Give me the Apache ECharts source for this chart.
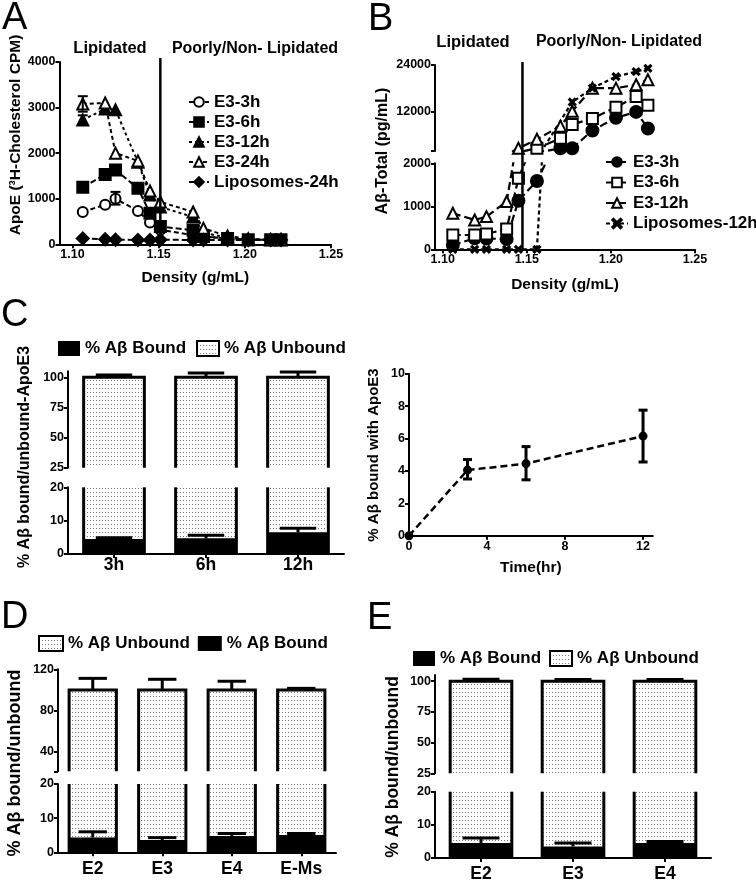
<!DOCTYPE html>
<html><head><meta charset="utf-8">
<script src="https://cdn.jsdelivr.net/npm/echarts@6.0.0/dist/echarts.min.js"></script>
<style>html,body{margin:0;padding:0;background:#fff;}#chart{width:756px;height:883px;}</style>
</head><body><div id="chart"></div>
<script>
// ===== Panel A: ApoE (3H-cholesterol CPM) vs density =====
const densityA = [1.106, 1.119, 1.125, 1.138, 1.145, 1.151, 1.170, 1.176, 1.190, 1.202, 1.215, 1.221];
const apoE_E3_3h  = [710, 870, 1000, 730, 480, 320, 200, 160, 130, 100, 100, 100];
const apoE_E3_6h  = [1250, 1530, 1630, 1230, 680, 390, 310, 170, 130, 100, 100, 100];
const apoE_E3_12h = [2730, 2970, 2950, 1800, 1080, 820, 600, 250, 150, 100, 100, 100];
const apoE_E3_24h = [3080, 3100, 2000, 1830, 1170, 930, 710, 350, 180, 120, 100, 100];
const apoE_Lipo_24h = [130, 110, 100, 95, 95, 100, 95, 95, 95, 95, 95, 95];
const apoE_errorBars = [[1.106, 2910, 3250], [1.106, 2640, 2830], [1.125, 870, 1150]]; // [density, low, high]
const boundaryA = 1.151;
const ticksA_x = [1.10, 1.15, 1.20, 1.25];
const ticksA_y = [0, 1000, 2000, 3000, 4000];

// ===== Panel B: Abeta total vs density =====
const densityB = [1.106, 1.119, 1.126, 1.138, 1.145, 1.156, 1.170, 1.177, 1.189, 1.203, 1.215, 1.222];
const ab_E3_3h  = [100, 256, 250, 240, 1130, 1590, 2700, 2700, 7260, 10480, 12000, 7770];
const ab_E3_6h  = [333, 333, 357, 473, 1650, 2700, 5240, 8790, 10310, 13180, 15970, 13690];
const ab_E3_12h = [837, 682, 760, 1110, 2700, 4990, 8360, 12170, 18080, 18080, 18930, 20200];
const ab_Lipo_12h = [0, 0, 0, 0, 0, 0, null, 14530, 18080, 21040, 22300, 23150];
const boundaryB = 1.1474;
const ticksB_x = [1.10, 1.15, 1.20, 1.25];
const ticksB_upper = [2000, 12000, 24000];
const labelsB_upper = [12000, 24000];
const ticksB_lower = [0, 1000, 2000];

// ===== Panel C left: % bound / unbound over time =====
const catC = ['3h', '6h', '12h'];
const boundC = [4.5, 4.7, 6.5];
const boundErrTopC = [4.9, 5.6, 7.7];
const totalC = [100, 100, 100];
const totalErrTopC = [102, 103.6, 104.4];
const ticksC_upper = [25, 50, 75, 100];
const ticksC_lower = [0, 10, 20];

// ===== Panel C right: % bound vs time =====
const timeHr = [0, 3, 6, 12];
const boundTime = [0, 4.05, 4.45, 6.15];
const boundTimeLow = [0, 3.5, 3.45, 4.55];
const boundTimeHigh = [0, 4.7, 5.5, 7.75];
const ticksCR_x = [0, 4, 8, 12];
const ticksCR_y = [0, 2, 4, 6, 8, 10];

// ===== Panel D =====
const catD = ['E2', 'E3', 'E4', 'E-Ms'];
const boundD = [4.3, 3.6, 4.8, 5.1];
const boundErrTopD = [6.0, 4.3, 5.5, 5.5];
const totalD = [100, 100, 100, 100];
const totalErrTopD = [111.2, 110.3, 108.4, 101.5];
const ticksD_upper = [21, 40, 80, 120];
const labelsD_upper = [40, 80, 120];
const ticksD_lower = [0, 10, 20];

// ===== Panel E =====
const catE = ['E2', 'E3', 'E4'];
const boundE = [4.5, 3.5, 4.5];
const boundErrTopE = [6.0, 4.5, 5.0];
const totalE = [100, 100, 100];
const totalErrTopE = [101.6, 101.3, 101.3];
const ticksE_upper = [25, 50, 75, 100];
const ticksE_lower = [0, 10, 20];

// ---------------- rendering ----------------
const FONT = '"Liberation Sans", Arial, Helvetica, sans-serif';
const L = {
  A:  {left: 59.5, top: 62,    width: 271.5, height: 182.3},
  BU: {left: 435,  top: 65,    width: 260,   height: 86},
  BL: {left: 435,  top: 163.3, width: 260,   height: 86},
  CU: {left: 68,   top: 371.3, width: 276,   height: 96.4},
  CL: {left: 68,   top: 487.3, width: 276,   height: 66.7},
  CR: {left: 409,  top: 373.7, width: 243.8, height: 162},
  DU: {left: 58,   top: 669.3, width: 278,   height: 102},
  DL: {left: 58,   top: 784,   width: 278,   height: 68.3},
  EU: {left: 435,  top: 675,   width: 276,   height: 98.3},
  EL: {left: 435,  top: 791.7, width: 276,   height: 66.6}
};
const order = ['A','BU','BL','CU','CL','CR','DU','DL','EU','EL'];
const G = {}; order.forEach((k, i) => G[k] = i);

function makeDots() {
  const c = document.createElement('canvas'); c.width = 3; c.height = 4;
  const g = c.getContext('2d'); g.fillStyle = '#fff'; g.fillRect(0, 0, 3, 4);
  g.fillStyle = '#777'; g.fillRect(0, 0, 1, 1);
  return c;
}
const dotPattern = {image: makeDots(), repeat: 'repeat'};

const axLine = {show: true, onZero: false, lineStyle: {color: '#000', width: 2}};
function tick(vals) { return {show: true, length: 4, lineStyle: {color: '#000', width: 2}, customValues: vals}; }
function lab(vals, size, fmt) {
  return {color: '#000', fontFamily: FONT, fontWeight: 'bold', fontSize: size || 12.5, margin: 4, customValues: vals,
    formatter: fmt || (v => String(v))};
}
const nameStyle = {color: '#000', fontFamily: FONT, fontWeight: 'bold', fontSize: 15.5};
function catLab(margin) { return {color: '#000', fontFamily: FONT, fontWeight: 'bold', fontSize: 17.5, margin}; }
const catTick = {show: true, alignWithLabel: true, length: 4, lineStyle: {color: '#000', width: 2}};

const grids = order.map(k => Object.assign({containLabel: false}, L[k]));

const xAxes = [
  {gridIndex: G.A, type: 'value', min: 1.0925, max: 1.25, axisLine: axLine, axisTick: tick(ticksA_x), axisLabel: lab(ticksA_x, 12.5, v => v.toFixed(2)), splitLine: {show: false}, name: 'Density (g/mL)', nameLocation: 'middle', nameGap: 25, nameTextStyle: nameStyle},
  {gridIndex: G.BU, type: 'value', min: 1.0954, max: 1.25, show: false, splitLine: {show: false}},
  {gridIndex: G.BL, type: 'value', min: 1.0954, max: 1.25, axisLine: axLine, axisTick: tick(ticksB_x), axisLabel: lab(ticksB_x, 12.5, v => v.toFixed(2)), splitLine: {show: false}, name: 'Density (g/mL)', nameLocation: 'middle', nameGap: 27, nameTextStyle: nameStyle},
  {gridIndex: G.CU, type: 'category', data: catC, show: false},
  {gridIndex: G.CL, type: 'category', data: catC, axisLine: axLine, axisTick: catTick, axisLabel: catLab(2)},
  {gridIndex: G.CR, type: 'value', min: 0, max: 12.5, axisLine: axLine, axisTick: tick(ticksCR_x), axisLabel: lab(ticksCR_x, 12.5), splitLine: {show: false}, name: 'Time(hr)', nameLocation: 'middle', nameGap: 24, nameTextStyle: nameStyle},
  {gridIndex: G.DU, type: 'category', data: catD, show: false},
  {gridIndex: G.DL, type: 'category', data: catD, axisLine: axLine, axisTick: catTick, axisLabel: catLab(8)},
  {gridIndex: G.EU, type: 'category', data: catE, show: false},
  {gridIndex: G.EL, type: 'category', data: catE, axisLine: axLine, axisTick: catTick, axisLabel: catLab(7)}
];

function yv(gi, min, max, ticks, labels) {
  return {gridIndex: gi, type: 'value', min, max, axisLine: axLine, axisTick: tick(ticks), axisLabel: lab(labels || ticks, 12.5), splitLine: {show: false}};
}
const yAxes = [
  yv(G.A, 0, 4000, ticksA_y),
  yv(G.BU, 2000, 24000, ticksB_upper, labelsB_upper),
  yv(G.BL, 0, 2000, ticksB_lower),
  yv(G.CU, 25, 105, ticksC_upper),
  yv(G.CL, 0, 20, ticksC_lower),
  yv(G.CR, 0, 10, ticksCR_y),
  yv(G.DU, 21, 120, ticksD_upper, labelsD_upper),
  yv(G.DL, 0, 20, ticksD_lower),
  yv(G.EU, 25, 105, ticksE_upper),
  yv(G.EL, 0, 20, ticksE_lower)
];

function lineS(name, xs, ys, gi, symbol, size, dash, width, clip) {
  return {type: 'line', name, xAxisIndex: gi, yAxisIndex: gi, data: xs.map((x, i) => [x, ys[i]]),
    symbol, symbolSize: size, showAllSymbol: true, clip: clip !== false, connectNulls: true,
    lineStyle: {color: '#000', width: width || 2, type: dash},
    itemStyle: {color: '#000', borderColor: '#000', borderWidth: 2}, z: 3};
}
function vline(xv, gi, extTop) {
  return {type: 'custom', xAxisIndex: gi, yAxisIndex: gi, clip: false, silent: true, z: 6, data: [[xv, 0]],
    renderItem: (params, api) => {
      const cs = params.coordSys; const x = api.coord([api.value(0), 0])[0];
      return {type: 'line', shape: {x1: x, y1: cs.y + cs.height, x2: x, y2: cs.y - extTop}, style: {stroke: '#000', lineWidth: 2.5}};
    }};
}
function errS(rows, gi, half, lw) {
  return {type: 'custom', xAxisIndex: gi, yAxisIndex: gi, clip: false, silent: true, z: 4, data: rows,
    renderItem: (params, api) => {
      const x = api.value(0); const a = api.coord([x, api.value(1)]), b = api.coord([x, api.value(2)]);
      const st = {stroke: '#000', lineWidth: lw || 2};
      return {type: 'group', children: [
        {type: 'line', shape: {x1: a[0], y1: a[1], x2: b[0], y2: b[1]}, style: st},
        {type: 'line', shape: {x1: a[0] - half, y1: a[1], x2: a[0] + half, y2: a[1]}, style: st},
        {type: 'line', shape: {x1: b[0] - half, y1: b[1], x2: b[0] + half, y2: b[1]}, style: st}]};
    }};
}
function barS(part, name, gi, cats, bound, boundErr, total, totalErr, ratio) {
  const data = cats.map((c, i) => [i, bound[i], total[i], boundErr[i], totalErr[i]]);
  return {type: 'custom', name, xAxisIndex: gi, yAxisIndex: gi, clip: false, silent: true, z: part === 'bound' ? 3 : 2, data,
    itemStyle: {color: part === 'bound' ? '#000' : '#ccc'},
    renderItem: (params, api) => {
      const cs = params.coordSys; const top = cs.y, bot = cs.y + cs.height;
      const cl = v => Math.max(top, Math.min(bot, v));
      const cat = api.value(0), b = api.value(1), t = api.value(2), be = api.value(3), te = api.value(4);
      const y = v => api.coord([cat, v])[1];
      const cx = api.coord([cat, 0])[0];
      const bw = api.size([1, 0])[0] * ratio;
      const xl = cx - bw / 2, xr = cx + bw / 2, half = bw * 0.3;
      const kids = [];
      const st = {stroke: '#000', lineWidth: 3, fill: null};
      const inside = v => v >= top - 0.5 && v <= bot + 0.5;
      if (part === 'unbound') {
        const yb = cl(y(b)), yt = cl(y(t)), y0 = cl(y(0));
        if (yb - yt > 0.5) kids.push({type: 'rect', shape: {x: xl, y: yt, width: bw, height: yb - yt}, style: {fill: dotPattern}});
        const topVis = inside(y(t));
        if (y0 - yt > 0.5) {
          if (topVis) kids.push({type: 'polyline', shape: {points: [[xl, y0], [xl, yt], [xr, yt], [xr, y0]]}, style: st});
          else {
            kids.push({type: 'line', shape: {x1: xl, y1: y0, x2: xl, y2: yt}, style: st});
            kids.push({type: 'line', shape: {x1: xr, y1: y0, x2: xr, y2: yt}, style: st});
          }
        }
        if (topVis) {
          const ye = cl(y(te));
          kids.push({type: 'line', shape: {x1: cx, y1: y(t), x2: cx, y2: ye}, style: st});
          kids.push({type: 'line', shape: {x1: cx - half, y1: ye, x2: cx + half, y2: ye}, style: st});
        }
      } else {
        const y0 = cl(y(0)), yb = cl(y(b));
        if (y0 - yb > 0.5) kids.push({type: 'rect', shape: {x: xl, y: yb, width: bw, height: y0 - yb}, style: {fill: '#000'}});
        if (inside(y(b)) && inside(y(be))) {
          kids.push({type: 'line', shape: {x1: cx, y1: y(b), x2: cx, y2: y(be)}, style: st});
          kids.push({type: 'line', shape: {x1: cx - half, y1: y(be), x2: cx + half, y2: y(be)}, style: st});
        }
      }
      return {type: 'group', children: kids};
    }};
}

const xSym = 'path://M0,1.3L1.3,0L5,3.7L8.7,0L10,1.3L6.3,5L10,8.7L8.7,10L5,6.3L1.3,10L0,8.7L3.7,5Z';

const series = [
  // Panel A
  lineS('A|E3-3h', densityA, apoE_E3_3h, G.A, 'emptyCircle', 10, [5, 3]),
  lineS('A|E3-6h', densityA, apoE_E3_6h, G.A, 'rect', 11, [6, 3]),
  lineS('A|E3-12h', densityA, apoE_E3_12h, G.A, 'triangle', 11, [3, 3]),
  lineS('A|E3-24h', densityA, apoE_E3_24h, G.A, 'emptyTriangle', 11, [4, 3]),
  lineS('A|Liposomes-24h', densityA, apoE_Lipo_24h, G.A, 'diamond', 12, [6, 3]),
  errS(apoE_errorBars, G.A, 5, 2),
  vline(boundaryA, G.A, 4),
  // Panel B (upper and lower segments of the broken axis)
  lineS('B|E3-3h', densityB, ab_E3_3h, G.BU, 'circle', 12, [8, 4], 2.2),
  lineS('B|E3-6h', densityB, ab_E3_6h, G.BU, 'emptyRect', 11, [8, 4], 2.2),
  lineS('B|E3-12h', densityB, ab_E3_12h, G.BU, 'emptyTriangle', 11, [8, 4], 2.2),
  lineS('B|Liposomes-12h', densityB, ab_Lipo_12h, G.BU, xSym, 6.5, [4, 3], 2.2),
  lineS('B|E3-3h', densityB, ab_E3_3h, G.BL, 'circle', 12, [8, 4], 2.2),
  lineS('B|E3-6h', densityB, ab_E3_6h, G.BL, 'emptyRect', 11, [8, 4], 2.2),
  lineS('B|E3-12h', densityB, ab_E3_12h, G.BL, 'emptyTriangle', 11, [8, 4], 2.2),
  lineS('B|Liposomes-12h', densityB, ab_Lipo_12h, G.BL, xSym, 6.5, [4, 3], 2.2),
  vline(boundaryB, G.BL, L.BL.top - L.BU.top + 3),
  // Panel C left
  barS('unbound', 'C|% Aβ Unbound', G.CU, catC, boundC, boundErrTopC, totalC, totalErrTopC, 0.66),
  barS('unbound', 'C|% Aβ Unbound', G.CL, catC, boundC, boundErrTopC, totalC, totalErrTopC, 0.66),
  barS('bound', 'C|% Aβ Bound', G.CL, catC, boundC, boundErrTopC, totalC, totalErrTopC, 0.66),
  // Panel C right
  lineS('CR|bound', timeHr, boundTime, G.CR, 'circle', 7, [7, 4], 2.5, false),
  errS(timeHr.slice(1).map((t, i) => [t, boundTimeLow[i + 1], boundTimeHigh[i + 1]]), G.CR, 4.5, 3),
  // Panel D
  barS('unbound', 'D|% Aβ Unbound', G.DU, catD, boundD, boundErrTopD, totalD, totalErrTopD, 0.68),
  barS('unbound', 'D|% Aβ Unbound', G.DL, catD, boundD, boundErrTopD, totalD, totalErrTopD, 0.68),
  barS('bound', 'D|% Aβ Bound', G.DL, catD, boundD, boundErrTopD, totalD, totalErrTopD, 0.68),
  // Panel E
  barS('unbound', 'E|% Aβ Unbound', G.EU, catE, boundE, boundErrTopE, totalE, totalErrTopE, 0.67),
  barS('unbound', 'E|% Aβ Unbound', G.EL, catE, boundE, boundErrTopE, totalE, totalErrTopE, 0.67),
  barS('bound', 'E|% Aβ Bound', G.EL, catE, boundE, boundErrTopE, totalE, totalErrTopE, 0.67)
];

const legText = size => ({fontFamily: FONT, fontWeight: 'bold', fontSize: size, color: '#000'});
const fmt = n => n.split('|')[1];
const boxLeg = (p, first) => {
  const b = {name: p + '|% Aβ Bound', icon: 'rect', itemStyle: {color: '#000', borderWidth: 0}};
  const u = {name: p + '|% Aβ Unbound', icon: 'rect', itemStyle: {color: dotPattern, borderColor: '#000', borderWidth: 2}};
  return first === 'bound' ? [b, u] : [u, b];
};
const legends = [
  {orient: 'vertical', left: 183, top: 88.5, itemWidth: 20, itemHeight: 12, itemGap: 3, itemTextGap: 12, selectedMode: false,
   data: ['A|E3-3h', 'A|E3-6h', 'A|E3-12h', 'A|E3-24h', 'A|Liposomes-24h'], formatter: fmt, textStyle: Object.assign(legText(17), {lineHeight: 17})},
  {orient: 'vertical', left: 600, top: 148.5, itemWidth: 22, itemHeight: 12, itemGap: 3.5, itemTextGap: 8, selectedMode: false,
   data: ['B|E3-3h', 'B|E3-6h', 'B|E3-12h', 'B|Liposomes-12h'], formatter: fmt, textStyle: Object.assign(legText(17), {lineHeight: 17})},
  {orient: 'horizontal', left: 53, top: 335, itemWidth: 22, itemHeight: 15, itemGap: 10, itemTextGap: 10, selectedMode: false,
   data: boxLeg('C', 'bound'), formatter: fmt, textStyle: legText(17)},
  {orient: 'horizontal', left: 33, top: 630, itemWidth: 24, itemHeight: 15, itemGap: 8, itemTextGap: 8, selectedMode: false,
   data: boxLeg('D', 'unbound'), formatter: fmt, textStyle: legText(17)},
  {orient: 'horizontal', left: 408, top: 645, itemWidth: 22, itemHeight: 15, itemGap: 8, itemTextGap: 10, selectedMode: false,
   data: boxLeg('E', 'bound'), formatter: fmt, textStyle: legText(17)}
];

function txt(text, x, y, size, opts) {
  opts = opts || {};
  const weight = opts.weight || 'bold';
  return {type: 'text', x, y, rotation: opts.rot || 0, silent: true, z: 10,
    style: {text, font: weight + ' ' + size + 'px ' + FONT, fill: '#000',
      textAlign: opts.align || 'center', textVerticalAlign: 'middle', align: opts.align || 'center', verticalAlign: 'middle'}};
}
const R = Math.PI / 2;
const graphics = [
  txt('A', 2, 19, 38, {weight: 'normal', align: 'left'}),
  txt('B', 368, 20, 38, {weight: 'normal', align: 'left'}),
  txt('C', 1, 315.5, 38, {weight: 'normal', align: 'left'}),
  txt('D', 1, 618, 38, {weight: 'normal', align: 'left'}),
  txt('E', 367, 619, 38, {weight: 'normal', align: 'left'}),
  txt('Lipidated', 110, 48.5, 16.5),
  txt('Poorly/Non- Lipidated', 255, 48.5, 16),
  txt('Lipidated', 473, 42, 16.5),
  txt('Poorly/Non- Lipidated', 619, 42, 16),
  txt('ApoE (³H-Cholesterol CPM)', 16, 135, 15.5, {rot: R}),
  txt('Aβ-Total (pg/mL)', 383, 151, 16, {rot: R}),
  txt('% Aβ bound/unbound-ApoE3', 25, 457, 16, {rot: R}),
  txt('% Aβ bound with ApoE3', 374, 455, 15, {rot: R}),
  txt('% Aβ bound/unbound', 15, 763, 18, {rot: R}),
  txt('% Aβ bound/unbound', 393, 767, 17.5, {rot: R})
];

const chart = echarts.init(document.getElementById('chart'), null, {renderer: 'canvas'});
chart.setOption({
  animation: false,
  backgroundColor: '#fff',
  grid: grids,
  xAxis: xAxes,
  yAxis: yAxes,
  legend: legends,
  series,
  graphic: graphics
});
</script>
</body></html>
